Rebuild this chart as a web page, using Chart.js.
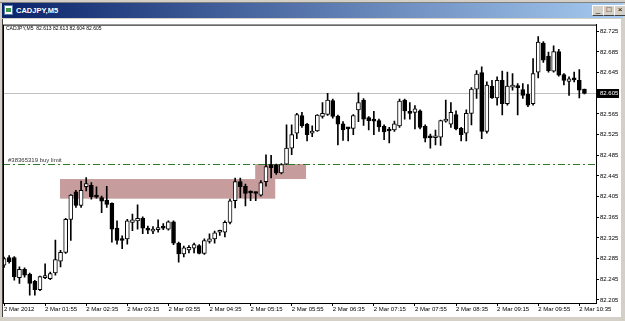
<!DOCTYPE html>
<html>
<head>
<meta charset="utf-8">
<script src="https://cdn.jsdelivr.net/npm/chart.js@4.4.1/dist/chart.umd.min.js"></script>
<style>
  body { margin: 0; background: #d4d0c8; }
  #win { position: relative; width: 625px; height: 321px; overflow: hidden; background: #d4d0c8; font-family: "Liberation Sans", Arial, sans-serif; }
  #toolbar { position: absolute; left: 0; top: 0; width: 625px; height: 2px; background: #d4d0c8; border-bottom: 1px solid #808080; }
  #title { position: absolute; left: 2px; top: 3px; width: 621px; height: 15px; background: linear-gradient(to right, #0a246a, #a6caf0); }
  #title .icon { position: absolute; left: 2px; top: 2px; width: 9px; height: 10px; background: #fff; border: 1px solid #5a7ab0; box-sizing: border-box; }
  #title .icon:after { content: ""; position: absolute; left: 1px; top: 2px; width: 5px; height: 4px; background: #3a9a4a; }
  #title .text { position: absolute; left: 14px; top: 2px; color: #fff; font-weight: bold; font-size: 7.5px; line-height: 11px; }
  .btn { position: absolute; top: 2px; width: 10px; height: 9px; background: #d4d0c8; border: 1px solid; border-color: #fff #404040 #404040 #fff; font-size: 8px; line-height: 8px; text-align: center; color: #000; }
  #frame { position: absolute; left: 2px; top: 19px; width: 619px; height: 298px; background: #fff; border-left: 1px solid #404040; box-sizing: border-box; }
  #chart { position: absolute; left: 3px; top: 20px; }
</style>
</head>
<body>
<div id="win">
  <div id="toolbar"></div>
  <div id="title">
    <div class="icon"></div>
    <div class="text">CADJPY,M5</div>
    <div class="btn" style="left:590px">_</div>
    <div class="btn" style="left:601px">&#9633;</div>
    <div class="btn" style="left:612px">&#215;</div>
  </div>
  <div id="frame"></div>
  <canvas id="chart" width="617" height="296"></canvas>
</div>
<script>
// CADJPY M5 candles, 2 Mar 2012 01:15 .. 10:40
const opens = [
  82.272, 82.287, 82.287, 82.248, 82.264, 82.255, 82.241, 82.225, 82.248, 82.246,
  82.257, 82.280, 82.297, 82.361, 82.414, 82.388, 82.424, 82.427, 82.406, 82.403,
  82.398, 82.392, 82.344, 82.322, 82.323, 82.355, 82.358, 82.363, 82.341, 82.338,
  82.341, 82.347, 82.342, 82.356, 82.315, 82.294, 82.302, 82.305, 82.310, 82.295,
  82.318, 82.323, 82.336, 82.336, 82.355, 82.397, 82.434, 82.425, 82.413, 82.412,
  82.408, 82.434, 82.467, 82.466, 82.451, 82.468, 82.499, 82.528, 82.562, 82.545,
  82.528, 82.532, 82.560, 82.564, 82.591, 82.561, 82.546, 82.537, 82.537, 82.573,
  82.592, 82.558, 82.552, 82.552, 82.541, 82.533, 82.534, 82.542, 82.592, 82.569,
  82.568, 82.571, 82.541, 82.520, 82.519, 82.520, 82.551, 82.545, 82.564, 82.537,
  82.528, 82.566, 82.613, 82.645, 82.531, 82.619, 82.596, 82.630, 82.585, 82.617,
  82.617, 82.612, 82.603, 82.585, 82.646, 82.702, 82.677, 82.648, 82.686, 82.641,
  82.628, 82.633, 82.630, 82.613
];
const highs = [
  82.288, 82.291, 82.289, 82.269, 82.267, 82.257, 82.243, 82.251, 82.275, 82.259,
  82.321, 82.301, 82.363, 82.409, 82.417, 82.435, 82.442, 82.432, 82.424, 82.406,
  82.425, 82.393, 82.358, 82.329, 82.361, 82.371, 82.389, 82.366, 82.348, 82.347,
  82.360, 82.353, 82.358, 82.358, 82.317, 82.309, 82.310, 82.315, 82.312, 82.323,
  82.333, 82.338, 82.340, 82.358, 82.400, 82.441, 82.441, 82.429, 82.416, 82.414,
  82.436, 82.486, 82.485, 82.468, 82.469, 82.544, 82.544, 82.566, 82.568, 82.547,
  82.542, 82.564, 82.587, 82.605, 82.594, 82.563, 82.550, 82.539, 82.564, 82.606,
  82.595, 82.560, 82.570, 82.555, 82.544, 82.539, 82.551, 82.594, 82.594, 82.587,
  82.581, 82.573, 82.544, 82.526, 82.534, 82.553, 82.592, 82.587, 82.571, 82.539,
  82.573, 82.616, 82.649, 82.656, 82.627, 82.630, 82.637, 82.648, 82.646, 82.643,
  82.624, 82.624, 82.622, 82.672, 82.715, 82.705, 82.685, 82.697, 82.690, 82.643,
  82.637, 82.646, 82.651, 82.613
];
const lows = [
  82.268, 82.276, 82.243, 82.237, 82.249, 82.214, 82.214, 82.223, 82.246, 82.244,
  82.253, 82.269, 82.295, 82.320, 82.384, 82.384, 82.416, 82.400, 82.402, 82.374,
  82.384, 82.317, 82.313, 82.304, 82.313, 82.339, 82.342, 82.333, 82.333, 82.333,
  82.336, 82.341, 82.340, 82.312, 82.278, 82.288, 82.296, 82.296, 82.294, 82.293,
  82.315, 82.315, 82.330, 82.327, 82.352, 82.383, 82.403, 82.387, 82.397, 82.397,
  82.406, 82.425, 82.441, 82.448, 82.449, 82.467, 82.486, 82.517, 82.539, 82.513,
  82.521, 82.531, 82.557, 82.562, 82.557, 82.505, 82.514, 82.513, 82.525, 82.550,
  82.543, 82.534, 82.525, 82.531, 82.515, 82.509, 82.531, 82.539, 82.555, 82.555,
  82.536, 82.536, 82.511, 82.499, 82.505, 82.504, 82.549, 82.539, 82.534, 82.513,
  82.513, 82.544, 82.595, 82.517, 82.528, 82.595, 82.582, 82.563, 82.582, 82.611,
  82.563, 82.595, 82.579, 82.582, 82.635, 82.665, 82.646, 82.646, 82.638, 82.621,
  82.601, 82.627, 82.596, 82.604
];
const closes = [
  82.285, 82.279, 82.250, 82.264, 82.253, 82.237, 82.225, 82.250, 82.250, 82.256,
  82.283, 82.297, 82.361, 82.408, 82.388, 82.417, 82.430, 82.405, 82.404, 82.396,
  82.390, 82.342, 82.320, 82.320, 82.358, 82.360, 82.363, 82.344, 82.340, 82.342,
  82.345, 82.344, 82.356, 82.315, 82.294, 82.306, 82.307, 82.312, 82.295, 82.320,
  82.323, 82.335, 82.338, 82.355, 82.397, 82.434, 82.424, 82.411, 82.412, 82.411,
  82.432, 82.463, 82.461, 82.451, 82.467, 82.499, 82.525, 82.564, 82.542, 82.525,
  82.532, 82.563, 82.566, 82.592, 82.560, 82.545, 82.534, 82.536, 82.562, 82.587,
  82.555, 82.552, 82.551, 82.540, 82.530, 82.532, 82.546, 82.590, 82.571, 82.566,
  82.575, 82.539, 82.518, 82.519, 82.521, 82.552, 82.552, 82.568, 82.536, 82.525,
  82.566, 82.613, 82.642, 82.531, 82.621, 82.596, 82.630, 82.585, 82.619, 82.619,
  82.616, 82.601, 82.582, 82.643, 82.704, 82.669, 82.649, 82.686, 82.640, 82.630,
  82.633, 82.631, 82.611, 82.605
];

// bottom axis labels, one every 8 bars
const timeLabels = ['2 Mar 2012', '2 Mar 01:55', '2 Mar 02:35', '2 Mar 03:15', '2 Mar 03:55',
  '2 Mar 04:35', '2 Mar 05:15', '2 Mar 05:55', '2 Mar 06:35', '2 Mar 07:15',
  '2 Mar 07:55', '2 Mar 08:35', '2 Mar 09:15', '2 Mar 09:55', '2 Mar 10:35'];
const labelStep = 8;
const priceTicks = [82.205, 82.245, 82.285, 82.325, 82.365, 82.405, 82.445,
  82.485, 82.525, 82.565, 82.605, 82.645, 82.685, 82.725];

const symbol = 'CADJPY,M5';
const bidPrice = 82.605;
const buyLimitPrice = 82.469;
const buyLimitLabel = '#38365319 buy limit';
// supply/demand zones: [fromBar, toBar, lowPrice, highPrice]
const zones = [
  [10.9, 52.8, 82.401, 82.439],
  [48.9, 58.8, 82.439, 82.468]
];

const wickData = highs.map((h, i) => ({ x: i, y: [lows[i], h] }));
const bodyData = opens.map((o, i) => ({ x: i, y: [o, closes[i]] }));

const FONT = '"Liberation Sans", Arial, sans-serif';

const overlays = {
  id: 'overlays',
  beforeDatasetsDraw(chart) {
    const { ctx, chartArea: a, scales: { x, y } } = chart;
    ctx.save();
    ctx.beginPath();
    ctx.rect(a.left, a.top, a.right - a.left, a.bottom - a.top);
    ctx.clip();
    // zones
    ctx.fillStyle = '#c79c9c';
    zones.forEach(z => {
      const x0 = x.getPixelForValue(z[0]), x1 = x.getPixelForValue(z[1]);
      const y0 = y.getPixelForValue(z[3]), y1 = y.getPixelForValue(z[2]);
      ctx.fillRect(x0, y0, x1 - x0, y1 - y0);
    });
    // bid line
    const by = Math.round(y.getPixelForValue(bidPrice)) + 0.5;
    ctx.strokeStyle = '#c0c0c0';
    ctx.lineWidth = 1;
    ctx.beginPath();
    ctx.moveTo(a.left, by);
    ctx.lineTo(a.right, by);
    ctx.stroke();
    // pending order line
    const ly = Math.round(y.getPixelForValue(buyLimitPrice)) + 0.5;
    ctx.strokeStyle = '#2f7a2f';
    ctx.setLineDash([7, 3, 2, 3]);
    ctx.beginPath();
    ctx.moveTo(a.left, ly);
    ctx.lineTo(a.right, ly);
    ctx.stroke();
    ctx.setLineDash([]);
    ctx.fillStyle = '#333';
    ctx.font = '6px ' + FONT;
    ctx.textBaseline = 'bottom';
    ctx.fillText(buyLimitLabel, a.left + 5, ly - 1);
    ctx.restore();
  },
  afterDraw(chart) {
    const { ctx, chartArea: a, scales: { y } } = chart;
    ctx.save();
    // frame
    ctx.strokeStyle = '#000';
    ctx.lineWidth = 1;
    ctx.strokeRect(a.left + 0.5, a.top + 0.5, a.right - a.left, a.bottom - a.top);
    // header
    ctx.fillStyle = '#000';
    ctx.font = '5px ' + FONT;
    ctx.textBaseline = 'middle';
    const last = opens.length - 1;
    const hdr = symbol + '  ' + [opens[last], highs[last], lows[last], closes[last]].map(v => v.toFixed(3)).join(' ');
    ctx.fillText(hdr, a.left + 3, a.top + 4);
    // current price box
    const py = Math.round(y.getPixelForValue(bidPrice));
    ctx.fillStyle = '#000';
    ctx.fillRect(a.right + 1, py - 4, 22, 9);
    ctx.fillStyle = '#fff';
    ctx.font = '6px ' + FONT;
    ctx.fillText(bidPrice.toFixed(3), a.right + 4, py + 0.5);
    ctx.restore();
  }
};

new Chart(document.getElementById('chart'), {
  type: 'bar',
  data: {
    datasets: [
      {
        data: wickData,
        backgroundColor: '#000',
        borderWidth: 0,
        barThickness: 1,
        grouped: false,
        order: 2
      },
      {
        data: bodyData,
        backgroundColor: c => (c.raw && c.raw.y[1] >= c.raw.y[0]) ? '#fff' : '#000',
        borderColor: '#000',
        borderWidth: 1,
        borderSkipped: false,
        barThickness: 4,
        minBarLength: 2,
        grouped: false,
        order: 1
      }
    ]
  },
  options: {
    responsive: false,
    animation: false,
    layout: { padding: { top: 2, left: 0, right: 0, bottom: 0 } },
    plugins: { legend: { display: false }, tooltip: { enabled: false } },
    scales: {
      x: {
        type: 'linear',
        min: -0.2,
        max: 115.25,
        offset: false,
        afterBuildTicks: s => { s.ticks = timeLabels.map((t, k) => ({ value: k * labelStep })); },
        afterFit: s => { s.height = 13; },
        grid: { drawOnChartArea: false, drawTicks: true, tickLength: 3, color: '#000', offset: false },
        border: { display: true, color: '#000' },
        ticks: {
          autoSkip: false,
          maxRotation: 0,
          align: 'start',
          padding: 0,
          color: '#000',
          font: { size: 6, family: FONT },
          callback: (v, i) => timeLabels[i]
        }
      },
      y: {
        position: 'right',
        min: 82.199,
        max: 82.738,
        afterBuildTicks: s => { s.ticks = priceTicks.map(v => ({ value: v })); },
        afterFit: s => { s.width = 24; },
        grid: { drawOnChartArea: false, drawTicks: true, tickLength: 3, color: '#000' },
        border: { display: true, color: '#000' },
        ticks: {
          padding: 1,
          color: '#000',
          font: { size: 6, family: FONT },
          callback: v => v.toFixed(3)
        }
      }
    }
  },
  plugins: [overlays]
});
</script>
</body>
</html>
